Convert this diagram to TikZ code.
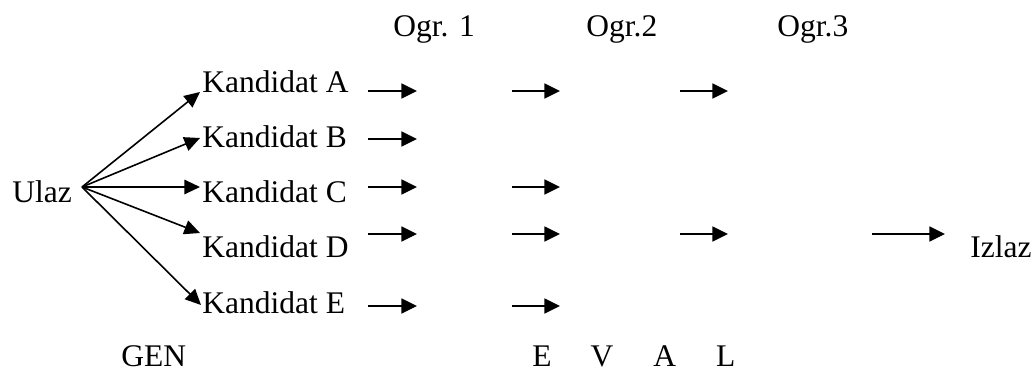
\documentclass[tikz,border=0pt]{standalone}
\usepackage{fontspec}
\setmainfont{Liberation Serif}
\usetikzlibrary{arrows.meta}
\begin{document}
\begin{tikzpicture}[x=0.5pt,y=-0.5pt,
  lbl/.style={inner sep=0pt,anchor=base west,font=\fontsize{15.75pt}{18pt}\selectfont},
  flow/.style={line width=0.9pt,-{Triangle[length=7.8pt,width=7.5pt]}},
  fan/.style={line width=0.8pt,-{Triangle[length=7.8pt,width=7.2pt]}}]
\useasboundingbox (0,0) rectangle (1034,370);

% stage headings
\node[lbl] (ogr1) at (393,36) {Ogr. 1};
\node[lbl] (ogr2) at (586,36) {Ogr.2};
\node[lbl] (ogr3) at (777,36) {Ogr.3};

% input and candidates
\node[lbl] (ulaz) at (12,202) {Ulaz};
\node[lbl] (kA) at (202,92)  {Kandidat A};
\node[lbl] (kB) at (202,147) {Kandidat B};
\node[lbl] (kC) at (202,202) {Kandidat C};
\node[lbl] (kD) at (202,257) {Kandidat D};
\node[lbl] (kE) at (202,313) {Kandidat E};

% output
\node[lbl] (izlaz) at (970,257) {Izlaz};

% bottom labels
\node[lbl] (gen) at (121,366.5) {GEN};
\node[lbl] (eval) at (532,366.5) {E\hspace{19.5pt}V\hspace{20pt}A\hspace{20pt}L};

% fan-out from the input
\coordinate (src) at (82,187);
\coordinate (tA) at (200,92);
\coordinate (tB) at (200,138);
\coordinate (tC) at (200,187);
\coordinate (tD) at (200,233);
\coordinate (tE) at (201,305);
\foreach \k in {A,B,C,D,E} \draw[fan] (src) -- (t\k);

% rows and columns of the constraint arrows
\coordinate (rA) at (0,91);
\coordinate (rB) at (0,139);
\coordinate (rC) at (0,187);
\coordinate (rD) at (0,234);
\coordinate (rE) at (0,306);
\coordinate (s1) at (368,0); \coordinate (e1) at (417,0);
\coordinate (s2) at (512,0); \coordinate (e2) at (560,0);
\coordinate (s3) at (680,0); \coordinate (e3) at (728,0);
\foreach \col/\row in {1/A,2/A,3/A,1/B,1/C,2/C,1/D,2/D,3/D,1/E,2/E}
  \draw[flow] (s\col |- r\row) -- (e\col |- r\row);

% final arrow towards the output
\coordinate (o1) at (872,234);
\coordinate (o2) at (945,234);
\draw[flow] (o1) -- (o2);
\end{tikzpicture}
\end{document}
